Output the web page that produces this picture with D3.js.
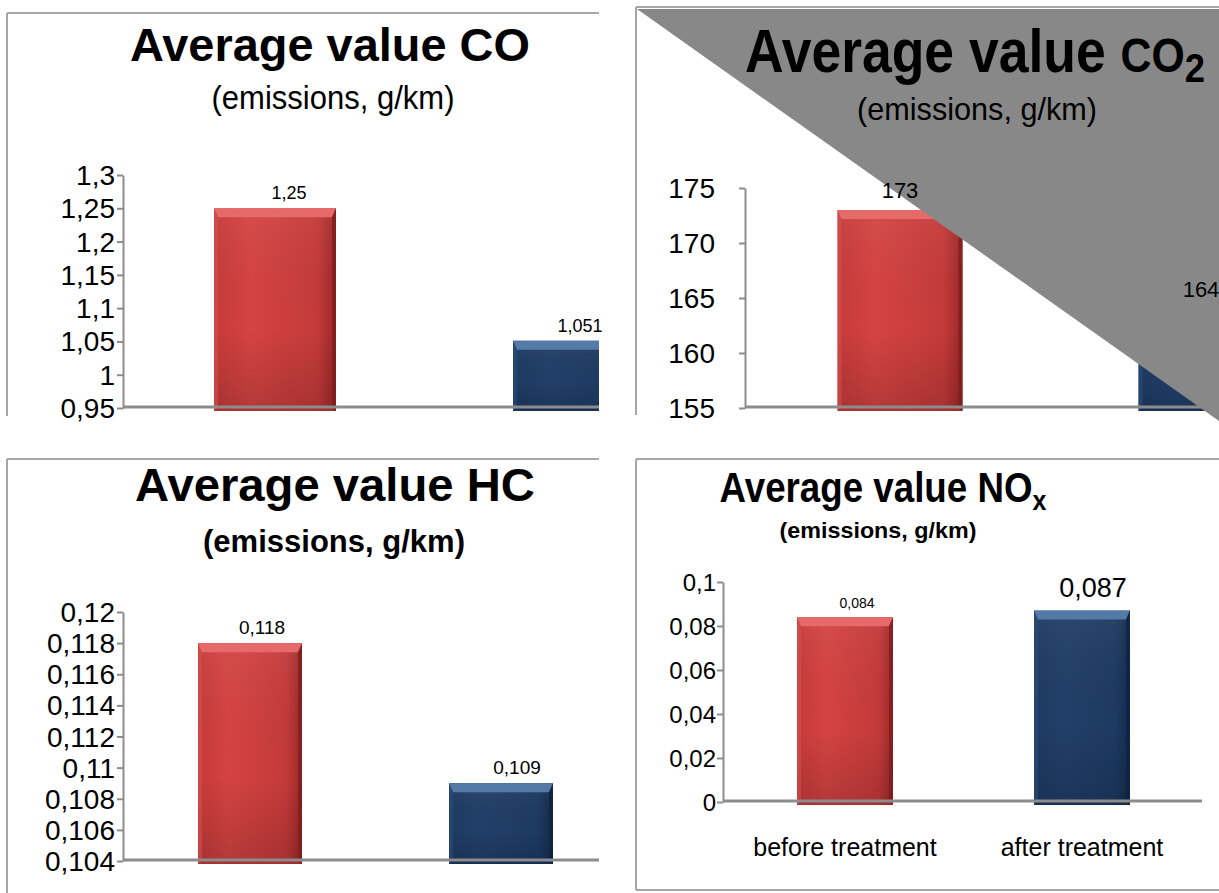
<!DOCTYPE html>
<html><head><meta charset="utf-8">
<script src="https://cdn.jsdelivr.net/npm/d3@7"></script>
<style>body{margin:0;background:#fff}svg{display:block}</style>
</head><body>
<svg id="c" width="1219" height="893"></svg>
<script>
// ---------- data ----------
const categories = ["before treatment", "after treatment"];
const coValues  = [1.25, 1.051];
const co2Values = [173, 164];
const hcValues  = [0.118, 0.109];
const noxValues = [0.084, 0.087];
const coTicks  = [0.95, 1, 1.05, 1.1, 1.15, 1.2, 1.25, 1.3];
const co2Ticks = [155, 160, 165, 170, 175];
const hcTicks  = [0.104, 0.106, 0.108, 0.11, 0.112, 0.114, 0.116, 0.118, 0.12];
const noxTicks = [0, 0.02, 0.04, 0.06, 0.08, 0.1];
const titleMain = "Average value ";
const gases = ["CO", "CO", "HC", "NO"];
const gasSubs = ["", "2", "", "x"];
const subtitle = "(emissions, g/km)";

const locale = d3.formatLocale({decimal: ",", thousands: ".", grouping: [3], currency: ["", ""]});
const fmt = locale.format("~g");

const svg = d3.select("#c");
const defs = svg.append("defs");

function grad(id, stops, x2, y2) {
  const g = defs.append("linearGradient").attr("id", id)
    .attr("x1", 0).attr("y1", 0).attr("x2", x2).attr("y2", y2);
  stops.forEach(s => g.append("stop").attr("offset", s[0]).attr("stop-color", s[1]).attr("stop-opacity", s[2] == null ? 1 : s[2]));
}
grad("redBody", [[0, "#c63a3a"], [0.3, "#d54343"], [0.85, "#c43a3a"], [1, "#9c2828"]], 1, 0);
grad("blueBody", [[0, "#1d3a62"], [0.3, "#213f69"], [0.85, "#1d3a62"], [1, "#142a4a"]], 1, 0);
grad("shadeV", [[0, "#ffffff", 0.05], [0.6, "#000000", 0.0], [1, "#000000", 0.15]], 0, 1);

const barStyle = {
  red:  {body: "url(#redBody)", top: "#e66a6a", right: "#7e1c1c", left: "#d65050", bottom: "#a83030"},
  blue: {body: "url(#blueBody)", top: "#557aa8", right: "#0f2240", left: "#2c4c7a", bottom: "#172f52"}
};
const colorsByCat = ["red", "blue"];

function bandScale(r0, c0, step, w) {
  const n = categories.length;
  const pi = 1 - w / step;
  const po = (c0 - w / 2 - r0) / step;
  const r1 = r0 + step * (n - pi + 2 * po);
  return d3.scaleBand().domain(categories).range([r0, r1]).paddingInner(pi).paddingOuter(po).align(0.5);
}

function drawBar(g, x0, y0, w, h, st) {
  const b = Math.min(9, h / 3), s = 4;
  g.append("rect").attr("x", x0).attr("y", y0).attr("width", w).attr("height", h).attr("fill", st.body);
  g.append("rect").attr("x", x0).attr("y", y0).attr("width", w).attr("height", h).attr("fill", "url(#shadeV)");
  g.append("polygon").attr("points", [[x0, y0], [x0 + w, y0], [x0 + w - s, y0 + b], [x0 + s, y0 + b]].join(" "))
    .attr("fill", st.top);
  g.append("polygon").attr("points", [[x0, y0], [x0 + s, y0 + b], [x0 + s, y0 + h - 3], [x0, y0 + h]].join(" "))
    .attr("fill", st.left).attr("opacity", 0.6);
  g.append("polygon").attr("points", [[x0 + w, y0], [x0 + w, y0 + h], [x0 + w - s, y0 + h - 3], [x0 + w - s, y0 + b]].join(" "))
    .attr("fill", st.right).attr("opacity", 0.75);
  g.append("polygon").attr("points", [[x0, y0 + h], [x0 + w, y0 + h], [x0 + w - s, y0 + h - 3], [x0 + s, y0 + h - 3]].join(" "))
    .attr("fill", st.bottom).attr("opacity", 0.7);
}

// place a text (possibly with tspans) centred at (cx, y) and squeezed horizontally to width w
function fitted(parent, cx, y, w) {
  const g = parent.append("g");
  const t = g.append("text").attr("x", 0).attr("y", 0).attr("text-anchor", "middle").attr("fill", "#000");
  return {t, done() {
    const bb = t.node().getBBox();
    const sx = w / bb.width;
    g.attr("transform", `translate(${cx - (bb.x + bb.width / 2) * sx},${y}) scale(${sx},1)`);
  }};
}

const SANS = "'Liberation Sans', Arial, Helvetica, sans-serif";

const panels = [
  {values: coValues, ticks: coTicks, domain: [0.95, 1.3],
   clip: [0, 13, 599, 402], axisX: 123, yB: 408, yT: 175, band: [123, 275, 299, 122], baseEnd: 599,
   title: {x: 330, y: 61, size: 46, w: 400},
   sub: {x: 333, y: 109, size: 33, w: 243, bold: false},
   tickSize: 28, tickPad: 2, val: {size: [18, 18], dx: [14, 6], dy: [9, 9]}},
  {values: co2Values, ticks: co2Ticks, domain: [155, 175],
   clip: [636, 7, 583, 408], axisX: 745, yB: 408, yT: 188, band: [745, 900, 301, 125], baseEnd: 1219,
   title: {x: 975, y: 72, size: 61, w: 460},
   sub: {x: 977, y: 120, size: 32, w: 240, bold: false},
   tickSize: 28, tickPad: 24, val: {size: [22, 22], dx: [0, 0], dy: [12, 12]}},
  {values: hcValues, ticks: hcTicks, domain: [0.104, 0.12],
   clip: [0, 459, 599, 434], axisX: 123, yB: 861, yT: 612, band: [123, 250, 251, 104], baseEnd: 599,
   title: {x: 335, y: 501, size: 46, w: 400},
   sub: {x: 334, y: 552, size: 31, w: 262, bold: true},
   tickSize: 28, tickPad: 2, val: {size: [19, 19], dx: [12, 16], dy: [9, 9]}},
  {values: noxValues, ticks: noxTicks, domain: [0, 0.1],
   clip: [636, 459, 583, 431], axisX: 723, yB: 802, yT: 582, band: [723, 845, 237, 96], baseEnd: 1202,
   title: {x: 883, y: 502, size: 42, w: 327},
   sub: {x: 878, y: 538, size: 22, w: 197, bold: true},
   tickSize: 24, tickPad: 1, val: {size: [14, 27], dx: [12, 11], dy: [9, 14]}, xLabels: true}
];

// panel borders
const borderColor = "#a6a6a6";
const borders = [
  [[7, 13], [7, 416]], [[7, 13], [599, 13]],
  [[636, 7], [636, 415]], [[636, 7], [1219, 7]],
  [[7, 459], [7, 893]], [[7, 459], [599, 459]],
  [[636, 459], [636, 890]], [[636, 459], [1219, 459]], [[636, 890], [1219, 890]]
];
svg.append("g").selectAll("line").data(borders).join("line")
  .attr("x1", d => d[0][0]).attr("y1", d => d[0][1]).attr("x2", d => d[1][0]).attr("y2", d => d[1][1])
  .attr("stroke", borderColor).attr("stroke-width", 2);

const scales = [];
panels.forEach((p, i) => {
  const cp = defs.append("clipPath").attr("id", "clip" + i);
  cp.append("rect").attr("x", p.clip[0]).attr("y", p.clip[1]).attr("width", p.clip[2]).attr("height", p.clip[3] + 20);
  const g = svg.append("g").attr("clip-path", `url(#clip${i})`);
  const y = d3.scaleLinear().domain(p.domain).range([p.yB, p.yT]);
  const x = bandScale(...p.band);
  scales.push({x, y});
  const bw = x.bandwidth();

  p.values.forEach((v, j) => {
    const cat = categories[j];
    drawBar(g, x(cat), y(v), bw, y(p.domain[0]) - y(v) + 3, barStyle[colorsByCat[j]]);
  });

  g.append("line").attr("x1", p.axisX).attr("x2", p.baseEnd).attr("y1", y(p.domain[0]) - 1).attr("y2", y(p.domain[0]) - 1)
    .attr("stroke", "#8c8c8c").attr("stroke-width", 3);

  const ax = svg.append("g").attr("transform", `translate(${p.axisX},0)`)
    .call(d3.axisLeft(y).tickValues(p.ticks).tickFormat(fmt).tickSize(6).tickSizeOuter(0).tickPadding(p.tickPad));
  ax.select(".domain").attr("stroke", "#8c8c8c").attr("stroke-width", 2);
  ax.selectAll(".tick line").attr("stroke", "#8c8c8c").attr("stroke-width", 2);
  ax.selectAll(".tick text").attr("font-family", SANS).attr("font-size", p.tickSize).attr("fill", "#000").attr("dy", "0.34em");

  if (p.xLabels) {
    const xa = svg.append("g").attr("transform", `translate(0,${y(p.domain[0])})`)
      .call(d3.axisBottom(x).tickSize(0).tickPadding(36));
    xa.select(".domain").remove();
    xa.selectAll(".tick text").attr("font-family", SANS).attr("font-size", 25).attr("fill", "#000");
  }
});

// grey triangle laid over the CO2 panel
svg.append("polygon").attr("points", "637,9 1219,9 1219,421").attr("fill", "#888888");

// value labels (on top of everything)
panels.forEach((p, i) => {
  const {x, y} = scales[i];
  const bw = x.bandwidth();
  p.values.forEach((v, j) => {
    const cat = categories[j];
    svg.append("text").attr("x", x(cat) + bw / 2 + p.val.dx[j]).attr("y", y(v) - p.val.dy[j])
      .attr("text-anchor", "middle").attr("font-family", SANS).attr("font-size", p.val.size[j]).attr("fill", "#000")
      .text(fmt(v));
  });
});

// titles and subtitles
panels.forEach((p, i) => {
  const f = fitted(svg, p.title.x, p.title.y, p.title.w);
  f.t.attr("font-family", SANS).attr("font-weight", "bold").attr("font-size", p.title.size);
  f.t.append("tspan").text(titleMain);
  if (i === 1) {
    f.t.append("tspan").attr("font-size", p.title.size * 0.8).text(gases[i]);
    f.t.append("tspan").attr("font-size", p.title.size * 0.68).attr("dy", 10).text(gasSubs[i]);
  } else {
    f.t.append("tspan").text(gases[i]);
    if (gasSubs[i]) f.t.append("tspan").attr("font-size", p.title.size * 0.68).attr("dy", 8).text(gasSubs[i]);
  }
  f.done();
  const s = fitted(svg, p.sub.x, p.sub.y, p.sub.w);
  s.t.attr("font-family", SANS).attr("font-weight", p.sub.bold ? "bold" : "normal").attr("font-size", p.sub.size).text(subtitle);
  s.done();
});
</script>
</body></html>
